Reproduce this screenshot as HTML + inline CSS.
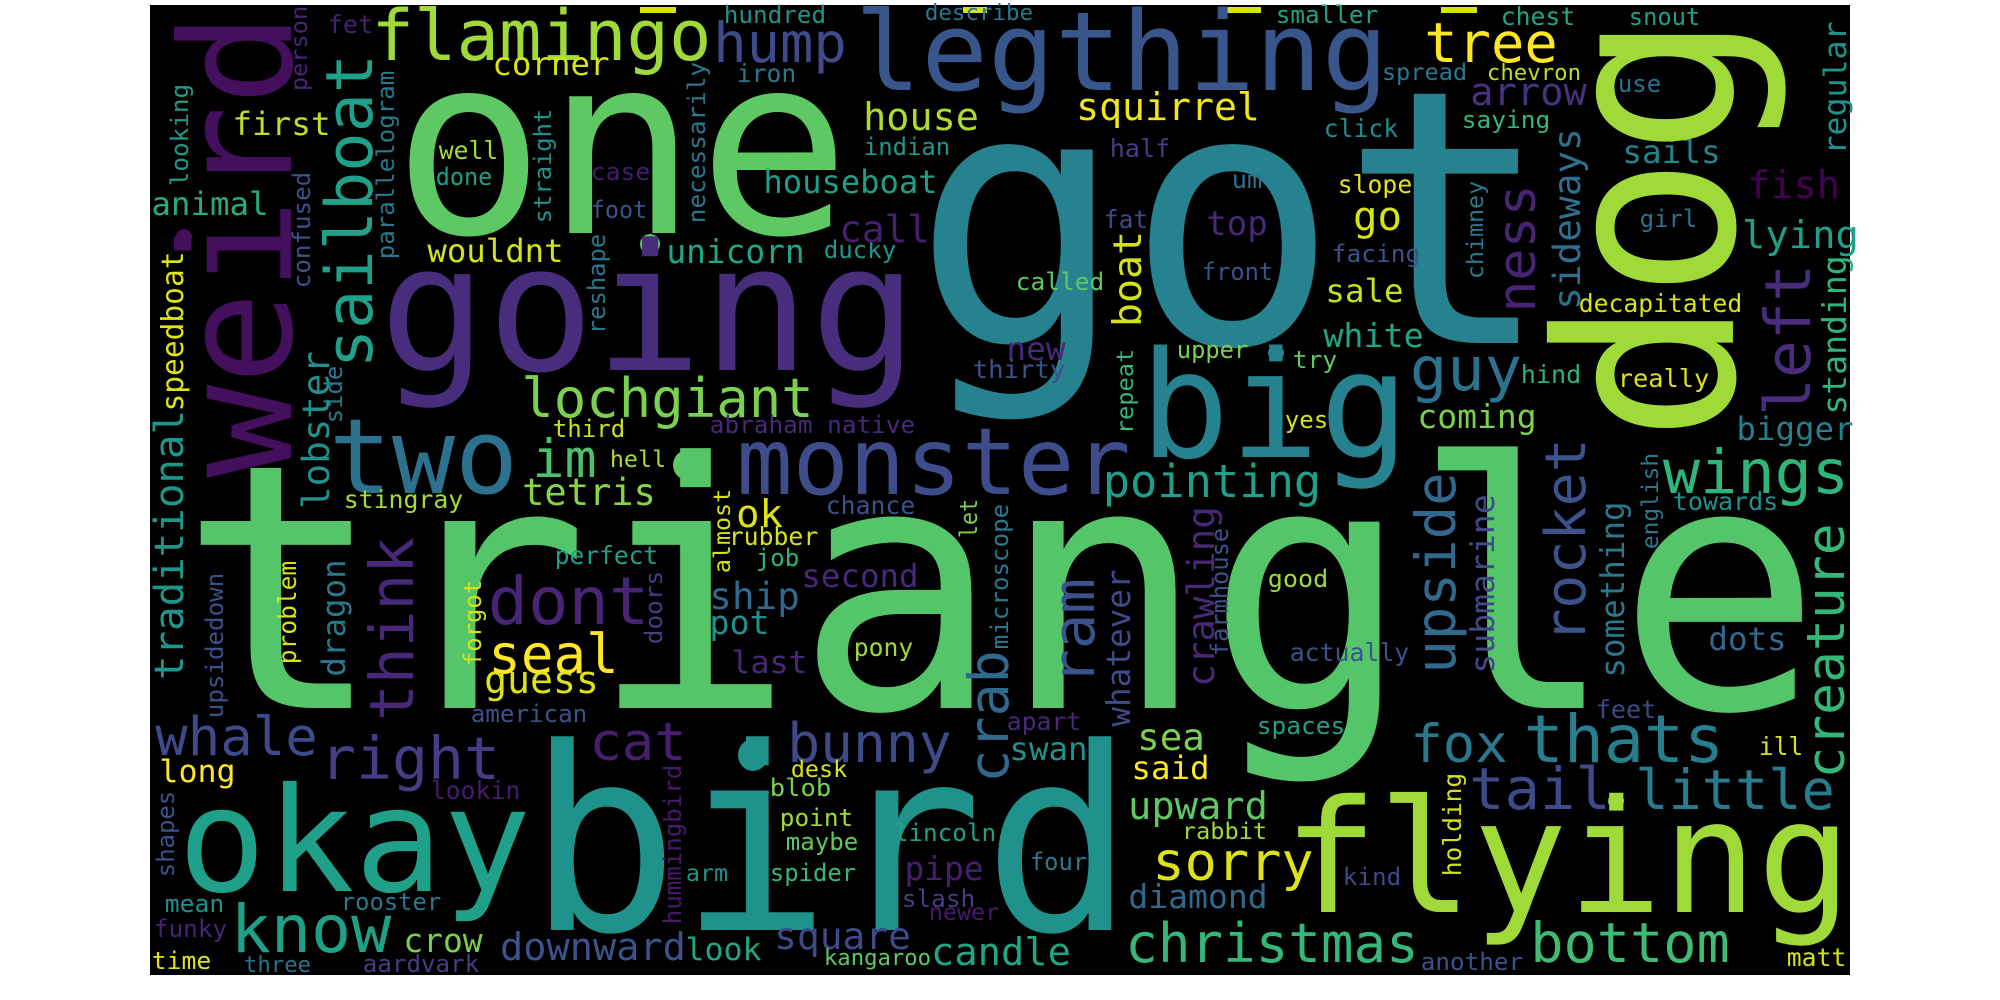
<!DOCTYPE html>
<html><head><meta charset="utf-8"><style>
html,body{margin:0;padding:0;background:#fff;}
svg{display:block;}
text{font-family:"DejaVu Sans Mono","Liberation Mono",monospace;}
</style></head><body>
<svg id="cloud" width="2000" height="1000" viewBox="0 0 2000 1000" xmlns="http://www.w3.org/2000/svg">
<rect x="150" y="5" width="1700" height="970" fill="#000"/>
<g id="marks">
<rect x="640" y="7" width="36" height="6" fill="#d5e21a"/>
<rect x="963" y="7" width="24" height="6" fill="#d5e21a"/>
<rect x="1225" y="7" width="36" height="6" fill="#d5e21a"/>
<rect x="1441" y="7" width="36" height="6" fill="#d5e21a"/>
<ellipse cx="184" cy="237" rx="8" ry="8" fill="#440f5c"/>
<ellipse cx="650" cy="244" rx="10" ry="10" fill="#5ec962"/>
<ellipse cx="690" cy="465" rx="17" ry="16" fill="#5ec962"/>
<ellipse cx="1276" cy="353" rx="8" ry="7" fill="#26828e"/>
<ellipse cx="753" cy="755" rx="15" ry="16" fill="#20928c"/>
<ellipse cx="1616" cy="801" rx="8" ry="8" fill="#5ec962"/>
</g>
<g id="words"></g>
</svg>
<script>
// horizontal words: text, left, right, baseline, font size, colour
const hWords = ["one","going","flamingo","hump","hundred","fet","corner","iron","first","animal","two","lochgiant","well","done","case","foot","wouldnt","unicorn","ducky","call","house","indian","houseboat","third","abraham native","im","hell","monster","tetris","legthing","got","tree","smaller","chest","snout","squirrel","spread","chevron","use","arrow","click","saying","half","sails","um","slope","fish","go","top","fat","girl","lying","facing","front","called","sale","decapitated","white","new","thirty","upper","try","big","guy","hind","really","yes","coming","bigger","wings","pointing","towards","dots","triangle","flying","fox","thats","feet","ill","tail","little","kind","christmas","bottom","another","matt","good","actually","spaces","apart","swan","sea","said","upward","rabbit","four","sorry","diamond","candle","bird","stingray","dont","seal","guess","ok","chance","rubber","job","perfect","second","ship","pot","last","pony","american","whale","right","cat","bunny","long","lookin","desk","blob","okay","point","maybe","lincoln","arm","spider","pipe","slash","newer","mean","rooster","funky","know","crow","downward","look","square","kangaroo","time","three","aardvark","describe"];
const hLeft = [405,388,375,716,725,329,494,738,234,153,334,524,440,437,592,592,429,668,825,841,865,865,765,554,711,535,611,741,524,860,930,1427,1277,1502,1630,1078,1383,1488,1619,1472,1325,1463,1111,1624,1233,1339,1749,1355,1208,1105,1641,1744,1333,1203,1017,1327,1580,1325,1008,974,1178,1294,1147,1413,1522,1619,1286,1419,1738,1666,1105,1674,1710,196,1291,1413,1527,1597,1760,1472,1638,1344,1128,1533,1422,1788,1269,1291,1258,1008,1011,1139,1133,1130,1183,1031,1155,1130,933,540,345,491,491,486,738,827,730,757,556,803,711,711,733,855,472,158,323,592,790,161,432,792,771,185,781,787,895,687,771,906,903,930,166,342,155,234,405,502,687,776,825,153,245,364,926];
const hRight = [838,909,708,844,825,372,608,795,329,267,513,811,497,491,649,646,562,803,895,928,977,949,936,624,914,594,665,1126,654,1383,1535,1555,1377,1574,1699,1258,1466,1580,1660,1585,1397,1549,1169,1719,1261,1411,1838,1400,1266,1147,1696,1857,1419,1272,1103,1402,1741,1422,1064,1064,1247,1336,1402,1519,1580,1708,1327,1535,1852,1846,1319,1777,1785,1805,1844,1505,1721,1655,1802,1608,1832,1400,1416,1727,1522,1845,1327,1408,1344,1080,1086,1203,1208,1266,1266,1086,1311,1266,1069,1122,462,646,616,597,781,914,817,798,657,917,798,768,806,912,586,315,497,684,949,234,519,846,830,524,852,857,995,727,855,982,974,998,223,440,226,388,481,684,760,909,930,210,310,478,1032];
const hBase = [233,370,60,62,23,33,75,82,135,215,493,417,159,185,180,218,262,263,258,242,130,155,193,437,433,477,467,494,505,90,343,62,23,25,25,120,80,80,92,105,137,128,157,163,188,193,198,230,235,228,227,248,262,280,290,302,312,347,360,378,358,368,457,390,383,387,428,428,440,493,497,510,650,708,912,762,762,718,755,809,809,885,962,962,970,966,587,661,734,730,760,750,779,819,839,870,880,908,965,930,508,624,673,693,527,514,545,566,564,587,609,634,673,656,722,755,779,760,762,782,799,777,796,891,826,850,841,881,881,880,907,920,912,910,937,952,952,960,960,949,965,969,972,972,20];
const hSize = [250,176,70,55,24,25,32,24.5,32,32,104,54,24.5,24,24,24,32,32.6,24,37,38,24,32,24,24.3,53,23,93,37,110,355,55,24,24.6,24,38,23.5,22,24,38.6,24.5,24,25,32,25,24.6,38,40,33.6,24.5,24,38.5,24.4,24,24,32,24.6,33,32,25,24,24,148,61,25,25,24,33,32,61,45,25,32,342,157,53,66,25,25,58,55,24,54,55,24,24.5,24,24.7,24.4,24.6,32,37,32,38.5,23.5,23.6,53,33,38.5,255,24.7,66,54,38,38,24.6,24.6,24,24.5,32,37,33,31.5,24.5,24,53.6,59,53,54,31.5,24.6,23,24,145,24,24,24,23,24,32.6,24,23,24,23.7,24,66,33,38.5,31.5,37.7,22,24,22,24,22.5];
const hColor = ["#5ec962","#472d7b","#a0da39","#3e4a89","#20928c","#481f70","#d8e219","#2a788e","#c2df23","#25ab82","#2c728e","#7ad151","#a5db36","#1f9e89","#481a6c","#3b528b","#d2e21b","#21a685","#1f988b","#481f70","#addc30","#1f988b","#1f9e89","#c8e020","#482878","#4ac16d","#a8db34","#3e4c8a","#86d549","#39568c","#26828e","#fde725","#1fa187","#21a685","#1f9e89","#f1e51d","#2a788e","#bade28","#2c728e","#46327e","#238a8d","#35b779","#433e85","#25858e","#2c728e","#e5e419","#440154","#d8e219","#482878","#3e4a89","#2c728e","#1fa088","#3b528b","#3b528b","#5ec962","#c5e021","#d8e219","#21a685","#482878","#3b528b","#7ad151","#5ec962","#26828e","#2c728e","#2db27d","#dde318","#d2e21b","#7ad151","#277f8e","#2fb47c","#1f9e89","#21918c","#31688e","#54c568","#a0da39","#2a788e","#277f8e","#3e4a89","#d8e219","#3e4a89","#287c8e","#3e4a89","#35b779","#3fbc73","#3b528b","#d2e21b","#a0da39","#3b528b","#1fa187","#482878","#21918c","#7ad151","#fde725","#5ec962","#a0da39","#2a788e","#dde318","#31688e","#21a685","#20928c","#a5db36","#482475","#fde725","#dde318","#dde318","#3b528b","#d8e219","#2fb47c","#1fa188","#482878","#31688e","#21918c","#482878","#a0da39","#3b528b","#3e4a89","#433e85","#481f70","#3e4a89","#fde725","#481a6c","#d8e219","#7ad151","#1fa088","#a0da39","#5ec962","#1fa188","#21918c","#35b779","#481f70","#433e85","#481a6c","#21918c","#2a788e","#482475","#1fa188","#7ad151","#3b528b","#21a685","#3e4a89","#5ec962","#dde318","#2c728e","#433e85","#2a788e"];
// vertical words (read bottom-to-top): text, baseline x, bottom y, top y, font size, colour
const vWords = ["weird","sailboat","person","looking","traditional","speedboat","lobster","side","confused","parallelogram","straight","necessarily","reshape","dog","regular","ness","sideways","chimney","boat","left","standing","repeat","rocket","upside","submarine","something","english","creature","holding","ram","crawling","farmhouse","whatever","think","forgot","doors","problem","dragon","upsidedown","almost","let","microscope","crab","hummingbird","shapes"];
const vBase = [291,372,307,188,183,183,329,342,310,394,551,705,605,1733,1846,1535,1580,1483,1141,1810,1846,1133,1585,1455,1494,1624,1658,1844,1461,1094,1214,1228,1130,413,481,662,296,345,223,730,977,1008,1008,681,174];
const vBottom = [470,365,90,185,678,410,507,422,287,258,222,222,333,430,153,310,308,278,325,413,413,433,640,671,672,676,548,776,875,682,685,655,725,718,665,643,663,675,717,572,537,648,780,923,876];
const vTop = [20,57,7,85,412,253,353,367,173,72,110,63,235,25,23,187,130,182,233,267,257,350,441,475,496,503,454,526,774,581,508,529,571,540,581,572,562,561,574,490,500,505,653,766,792];
const vSize = [154,65,23.5,24,40,30,37,24,24,24,24,24,24,245,31.5,53,37.6,23,39.6,63,33,23.5,56,55,33,32.5,23,53,24.5,58,37.4,23.6,32.5,61,24,24,24.5,32,24,23,24,24.4,55,24,24];
const vColor = ["#440f5c","#1fa088","#482576","#1f9a8a","#1f968b","#dde318","#21908d","#2a788e","#3b528b","#2a788e","#21918c","#2a788e","#2a788e","#a0da39","#21918c","#482475","#2e6e8e","#2a788e","#d2e21b","#472d7b","#2fb47c","#35b779","#3b528b","#31688e","#3e4a89","#2a788e","#2a788e","#35b779","#d2e21b","#3b528b","#482878","#3b528b","#3e4a89","#482878","#d2e21b","#433e85","#d8e219","#2a788e","#3b528b","#d8e219","#7ad151","#2a788e","#31688e","#481a6c","#3b528b"];

const NS = "http://www.w3.org/2000/svg";
const g = document.getElementById("words");
function slug(s){return s.replace(/\s+/g,'-');}
hWords.forEach((w,i)=>{
  const fs = hSize[i];
  const t = document.createElementNS(NS,"text");
  
  
  t.setAttribute("x", hLeft[i] - 0.05*fs);
  t.setAttribute("y", hBase[i]);
  t.setAttribute("font-size", fs);
  t.setAttribute("fill", hColor[i]);
  t.setAttribute("textLength", (hRight[i]-hLeft[i]) + 0.1*fs);
  t.setAttribute("lengthAdjust", "spacingAndGlyphs");
  t.textContent = w;
  g.appendChild(t);
});
vWords.forEach((w,i)=>{
  const fs = vSize[i];
  const t = document.createElementNS(NS,"text");
  
  
  t.setAttribute("transform", "translate(" + vBase[i] + "," + (vBottom[i] + 0.05*fs) + ") rotate(-90)");
  t.setAttribute("x", 0);
  t.setAttribute("y", 0);
  t.setAttribute("font-size", fs);
  t.setAttribute("fill", vColor[i]);
  t.setAttribute("textLength", (vBottom[i]-vTop[i]) + 0.1*fs);
  t.setAttribute("lengthAdjust", "spacingAndGlyphs");
  t.textContent = w;
  g.appendChild(t);
});
</script>
</body></html>
